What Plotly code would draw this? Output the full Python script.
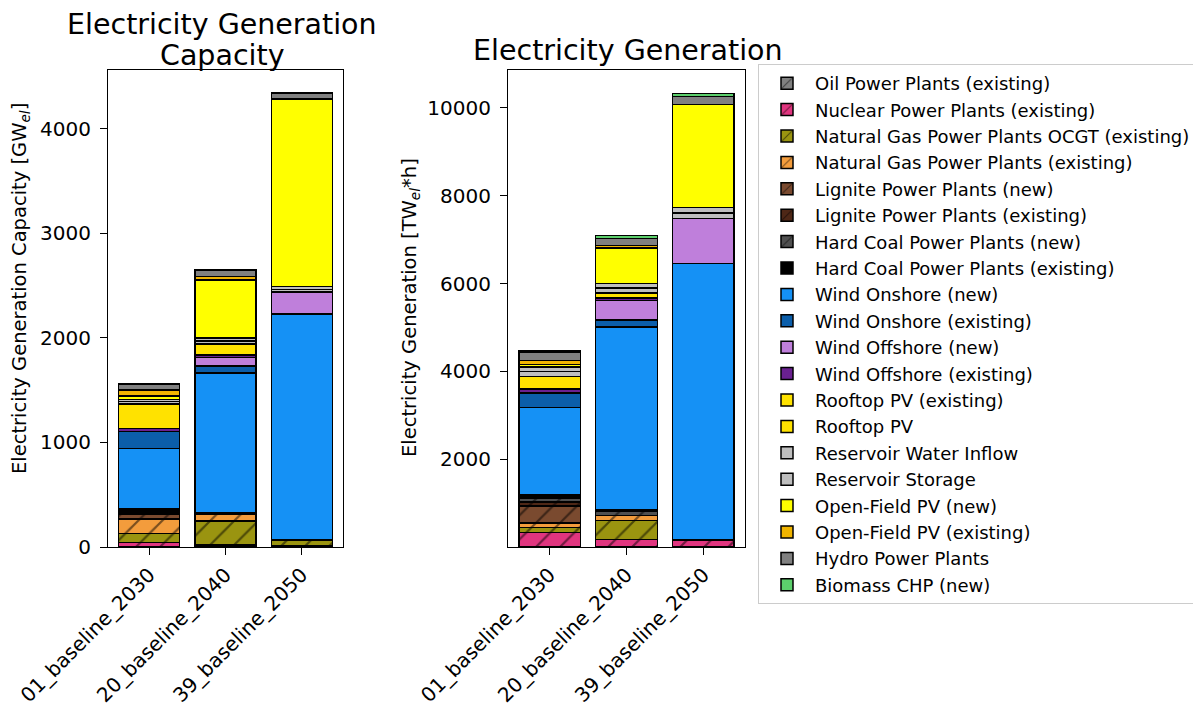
import plotly.graph_objects as go
from plotly.subplots import make_subplots

# Scenarios on the x axis
scenarios = ["01_baseline_2030", "20_baseline_2040", "39_baseline_2050"]

# Technologies, stacked from bottom to top
technologies = [
    "Oil Power Plants (existing)",
    "Nuclear Power Plants (existing)",
    "Natural Gas Power Plants OCGT (existing)",
    "Natural Gas Power Plants (existing)",
    "Lignite Power Plants (new)",
    "Lignite Power Plants (existing)",
    "Hard Coal Power Plants (new)",
    "Hard Coal Power Plants (existing)",
    "Wind Onshore (new)",
    "Wind Onshore (existing)",
    "Wind Offshore (new)",
    "Wind Offshore (existing)",
    "Rooftop PV (existing)",
    "Rooftop PV",
    "Reservoir Water Inflow",
    "Reservoir Storage",
    "Open-Field PV (new)",
    "Open-Field PV (existing)",
    "Hydro Power Plants",
    "Biomass CHP (new)",
]

# Installed capacity [GW_el] per scenario, one value per technology
capacity_2030 = [5, 38, 88, 137, 48, 12, 8, 28, 580, 159, 0, 29,
                 234, 0, 24, 23, 32, 57, 58, 6]
capacity_2040 = [0, 18, 231, 67, 0, 0, 0, 12, 1334, 70, 80, 25,
                 106, 0, 27, 27, 558, 32, 57, 6]
capacity_2050 = [0, 12, 55, 0, 0, 0, 0, 0, 2163, 0, 207, 0,
                 0, 0, 27, 27, 1796, 0, 55, 3]

# Generated electricity [TW_el*h] per scenario, one value per technology
generation_2030 = [0, 334, 113, 105, 380, 98, 90, 62, 1993, 332, 0, 91,
                   288, 0, 106, 106, 62, 90, 189, 20]
generation_2040 = [0, 175, 423, 122, 0, 0, 95, 26, 4166, 168, 439, 61,
                   114, 0, 109, 109, 804, 53, 166, 61]
generation_2050 = [0, 160, 0, 0, 0, 0, 0, 0, 6301, 0, 1023, 0,
                   0, 0, 125, 125, 2350, 0, 175, 70]

# Fill colours and hatching per technology
fill_colors = [
    "#808080", "#E0357F", "#9A9410", "#F39C3C", "#7A4A2F", "#4E2716",
    "#505050", "#000000", "#1591F5", "#0B5EAA", "#BF7FDB", "#6A2090",
    "#FFE200", "#FFE200", "#BEBEBE", "#BEBEBE", "#FFFF00", "#F0B400",
    "#808080", "#5CCF6C",
]
hatched = [True] * 8 + [False] * 12

capacity = [capacity_2030, capacity_2040, capacity_2050]
generation = [generation_2030, generation_2040, generation_2050]

W, H = 1193, 713
FONT = "DejaVu Sans"

fig = make_subplots(rows=1, cols=2)

for col, table in ((1, capacity), (2, generation)):
    for i, name in enumerate(technologies):
        values = [table[s][i] for s in range(len(scenarios))]
        pattern = dict(shape="/" if hatched[i] else "", fgcolor="black",
                       bgcolor=fill_colors[i], size=17, solidity=0.13)
        fig.add_trace(
            go.Bar(
                x=scenarios, y=values, name=name, legendgroup=name,
                showlegend=(col == 1),
                marker=dict(color=fill_colors[i], pattern=pattern,
                            line=dict(color="black", width=1.5)),
            ),
            row=1, col=col,
        )

y_lo, y_hi = (H - 547) / H, (H - 70) / H
axis_common = dict(
    showline=True, linecolor="black", linewidth=1.2, mirror=True,
    ticks="outside", ticklen=7, tickcolor="black", showgrid=False,
    zeroline=False, automargin=False,
    tickfont=dict(family=FONT, size=20, color="black"),
)

fig.update_xaxes(**axis_common)
fig.update_yaxes(**axis_common)
fig.update_xaxes(tickangle=-45, range=[-0.54, 2.54], tickfont=dict(size=20))
fig.update_yaxes(tickformat="d", ticklabelstandoff=5)
fig.update_layout(
    xaxis=dict(domain=[108 / W, 343 / W]),
    xaxis2=dict(domain=[508 / W, 745 / W]),
    yaxis=dict(domain=[y_lo, y_hi], range=[0, 4562],
               tickvals=[0, 1000, 2000, 3000, 4000]),
    yaxis2=dict(domain=[y_lo, y_hi], range=[0, 10864],
                tickvals=[2000, 4000, 6000, 8000, 10000]),
)

title_font = dict(family=FONT, size=28.5, color="black")
label_font = dict(family=FONT, size=19.5, color="black")
annotations = [
    dict(text="Electricity Generation", x=222 / W, y=(H - 24) / H,
         xref="paper", yref="paper", xanchor="center", yanchor="middle",
         showarrow=False, font=title_font),
    dict(text="Capacity", x=222 / W, y=(H - 55.5) / H,
         xref="paper", yref="paper", xanchor="center", yanchor="middle",
         showarrow=False, font=title_font),
    dict(text="Electricity Generation", x=627.5 / W, y=(H - 50.5) / H,
         xref="paper", yref="paper", xanchor="center", yanchor="middle",
         showarrow=False, font=title_font),
    dict(text="Electricity Generation Capacity [GW<sub><i>el</i></sub>]",
         x=20 / W, y=(H - 289) / H, xref="paper", yref="paper",
         xanchor="center", yanchor="middle", textangle=-90, showarrow=False,
         font=label_font),
    dict(text="Electricity Generation [TW<sub><i>el</i></sub>*h]",
         x=410 / W, y=(H - 308) / H, xref="paper", yref="paper",
         xanchor="center", yanchor="middle", textangle=-90, showarrow=False,
         font=label_font),
]

fig.update_layout(
    width=W, height=H, autosize=False,
    margin=dict(l=0, r=0, t=0, b=0, autoexpand=False),
    barmode="stack", bargap=0.2,
    plot_bgcolor="white", paper_bgcolor="white",
    font=dict(family=FONT, color="black"),
    annotations=annotations,
    legend=dict(
        xref="paper", yref="paper",
        x=758 / W, y=(H - 64) / H, xanchor="left", yanchor="top",
        font=dict(family=FONT, size=18, color="black"),
        bordercolor="#CCCCCC", borderwidth=1, bgcolor="white",
        itemwidth=46, traceorder="normal", maxheight=600,
    ),
)

fig.write_html("out.html")
